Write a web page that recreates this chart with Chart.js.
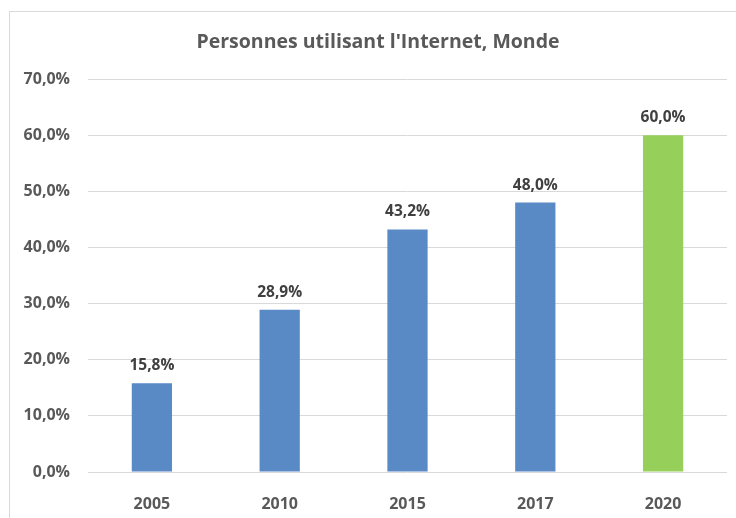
<!DOCTYPE html>
<html>
<head>
<meta charset="utf-8">
<script src="https://cdn.jsdelivr.net/npm/chart.js@4/dist/chart.umd.min.js"></script>
<style>
  body { margin: 0; background: #fff; }
  #wrap { position: relative; width: 736px; height: 518px; }
  #frame { position: absolute; left: 9px; top: 11px; right: -2px; bottom: -2px;
           border-top: 1px solid #d9d9d9; border-left: 1px solid #d9d9d9; }
  canvas { position: absolute; left: 0; top: 0; }
</style>
</head>
<body>
<div id="wrap">
  <div id="frame"></div>
  <canvas id="chart" width="736" height="518"></canvas>
</div>
<script>
// données
const years = ['2005', '2010', '2015', '2017', '2020'];
const usage = [15.8, 28.9, 43.2, 48.0, 60.0];
const barColors = ['#5a8ac6', '#5a8ac6', '#5a8ac6', '#5a8ac6', '#96d05a'];
const yTicks = [0, 10, 20, 30, 40, 50, 60, 70];
const titleText = "Personnes utilisant l'Internet, Monde";

function pct(v) {
    return v.toFixed(1).replace('.', ',') + '%';
}

// étiquettes au-dessus des barres + titre centré sur le cadre
const valueLabels = {
    id: 'valueLabels',
    afterDatasetsDraw(chart) {
        const ctx = chart.ctx;
        const meta = chart.getDatasetMeta(0);
        ctx.save();
        ctx.font = 'bold 15.5px "Open Sans", sans-serif';
        ctx.fillStyle = '#404040';
        ctx.textAlign = 'center';
        ctx.textBaseline = 'alphabetic';
        meta.data.forEach((bar, i) => {
            ctx.fillText(pct(usage[i]), bar.x, bar.y - 13);
        });
        ctx.font = 'bold 19.5px "Open Sans", sans-serif';
        ctx.fillStyle = '#595959';
        ctx.textBaseline = 'middle';
        ctx.fillText(titleText, 378, 42);
        ctx.restore();
    }
};

const ctx = document.getElementById('chart').getContext('2d');
new Chart(ctx, {
    type: 'bar',
    data: {
        labels: years,
        datasets: [{
            data: usage,
            backgroundColor: barColors,
            barPercentage: 0.9,
            categoryPercentage: 0.35
        }]
    },
    options: {
        responsive: false,
        animation: false,
        layout: { padding: { left: 0, right: 9, top: 0, bottom: 0 } },
        plugins: {
            legend: { display: false },
            tooltip: { enabled: false },
            title: {
                // réserve la place ; le texte est dessiné par le plugin
                display: true,
                text: titleText,
                color: 'rgba(0,0,0,0)',
                font: { family: '"Open Sans", sans-serif', size: 19.5, weight: 'bold' },
                padding: { top: 32, bottom: 23.6 }
            }
        },
        scales: {
            x: {
                grid: { display: false },
                border: { display: false },
                ticks: {
                    color: '#595959',
                    font: { family: '"Open Sans", sans-serif', size: 16, weight: 'bold' },
                    padding: 15
                },
                afterFit(scale) { scale.height = 46; }
            },
            y: {
                min: 0,
                max: 70,
                border: { display: false },
                grid: { color: '#d9d9d9', drawTicks: false },
                afterBuildTicks(scale) { scale.ticks = yTicks.map(v => ({ value: v })); },
                ticks: {
                    color: '#595959',
                    font: { family: '"Open Sans", sans-serif', size: 16, weight: 'bold' },
                    padding: 18,
                    callback: v => pct(v)
                },
                afterFit(scale) { scale.width = 88; }
            }
        }
    },
    plugins: [valueLabels]
});
</script>
</body>
</html>
